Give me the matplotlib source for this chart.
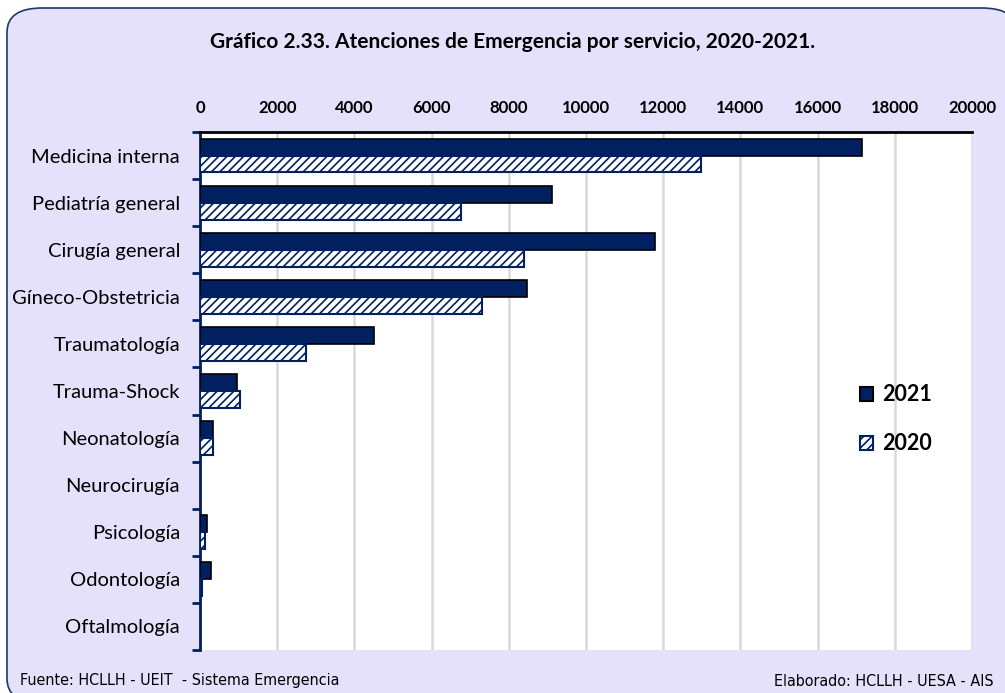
import matplotlib.pyplot as plt
import numpy as np
from matplotlib.patches import FancyBboxPatch
from matplotlib.patches import Patch

plt.rcParams["font.family"] = ["Lato", "DejaVu Sans"]
plt.rcParams["hatch.linewidth"] = 1.2

servicios = [
    "Medicina interna",
    "Pediatría general",
    "Cirugía general",
    "Gíneco-Obstetricia",
    "Traumatología",
    "Trauma-Shock",
    "Neonatología",
    "Neurocirugía",
    "Psicología",
    "Odontología",
    "Oftalmología",
]
valores_2021 = [17150, 9120, 11790, 8470, 4510, 965, 345, 0, 190, 293, 0]
valores_2020 = [12980, 6760, 8390, 7300, 2750, 1045, 337, 0, 137, 43, 0]

azul = "#002060"
fondo = "#E6E1FA"

fig = plt.figure(figsize=(10.05, 6.93), dpi=100)
fig.patch.set_facecolor("white")

# marco redondeado del grafico
marco = FancyBboxPatch(
    (7 / 1005, -10 / 693), 1010 / 1005, 695 / 693,
    boxstyle="round,pad=0,rounding_size=0.035",
    transform=fig.transFigure, facecolor=fondo, edgecolor="#1F3864",
    linewidth=1.2, zorder=-5,
)
fig.patches.append(marco)

ax = fig.add_axes([200 / 1005, 43 / 693, 772 / 1005, 518 / 693])
ax.set_facecolor("white")
ax.set_zorder(2)

y = np.arange(len(servicios))
alto = 0.36

# las barras en cero no llevan borde
lw21 = [1.2 if v > 0 else 0 for v in valores_2021]
lw20 = [1.5 if v > 0 else 0 for v in valores_2020]

ax.barh(y - alto / 2, valores_2021, height=alto, color=azul,
        edgecolor="black", linewidth=lw21, label="2021", zorder=3)
ax.barh(y + alto / 2, valores_2020, height=alto, color="white",
        edgecolor=azul, hatch="////", linewidth=lw20, label="2020", zorder=3)

ax.set_xlim(0, 20000)
ax.set_ylim(len(servicios) - 0.5, -0.5)
ax.set_xticks(np.arange(0, 20001, 2000))
ax.xaxis.tick_top()
ax.tick_params(axis="x", length=0, pad=11.5, labelsize=12)
for lbl in ax.get_xticklabels():
    lbl.set_fontweight("bold")
ax.grid(axis="x", color="#D9D9D9", linewidth=1.8, zorder=0)

ax.set_yticks(y)
ax.set_yticklabels(servicios, fontsize=14.5)
ax.tick_params(axis="y", length=0, pad=14.4)
ax.set_yticks(np.arange(-0.5, len(servicios) - 0.4, 1), minor=True)
ax.tick_params(axis="y", which="minor", length=6, width=2, color=azul)

for lado in ["right", "bottom"]:
    ax.spines[lado].set_visible(False)
ax.spines["top"].set_color("black")
ax.spines["top"].set_linewidth(2)
ax.spines["left"].set_color(azul)
ax.spines["left"].set_linewidth(2)

handles = [
    Patch(facecolor=azul, edgecolor="black", linewidth=1.5, label="2021"),
    Patch(facecolor="white", edgecolor=azul, hatch="////", linewidth=1.5, label="2020"),
]
leg = ax.legend(handles=handles, loc="center left", bbox_to_anchor=(0.83, 0.445),
                frameon=False, prop={"weight": "bold", "size": 15.5},
                handlelength=0.6, handleheight=0.6, labelspacing=1.3,
                handletextpad=0.4)

fig.text(0.51, 1 - 42 / 693, "Gráfico 2.33. Atenciones de Emergencia por servicio, 2020-2021.",
         ha="center", va="center", fontsize=15, fontweight="bold")

fig.text(20 / 1005, 1 - 681 / 693, "Fuente: HCLLH - UEIT  - Sistema Emergencia",
         ha="left", va="center", fontsize=11.5, family="DejaVu Sans", stretch="condensed")
fig.text(993 / 1005, 1 - 681 / 693, "Elaborado: HCLLH - UESA - AIS",
         ha="right", va="center", fontsize=11.5, family="DejaVu Sans", stretch="condensed")

fig.savefig("out.png", dpi=100, facecolor=fig.get_facecolor())
